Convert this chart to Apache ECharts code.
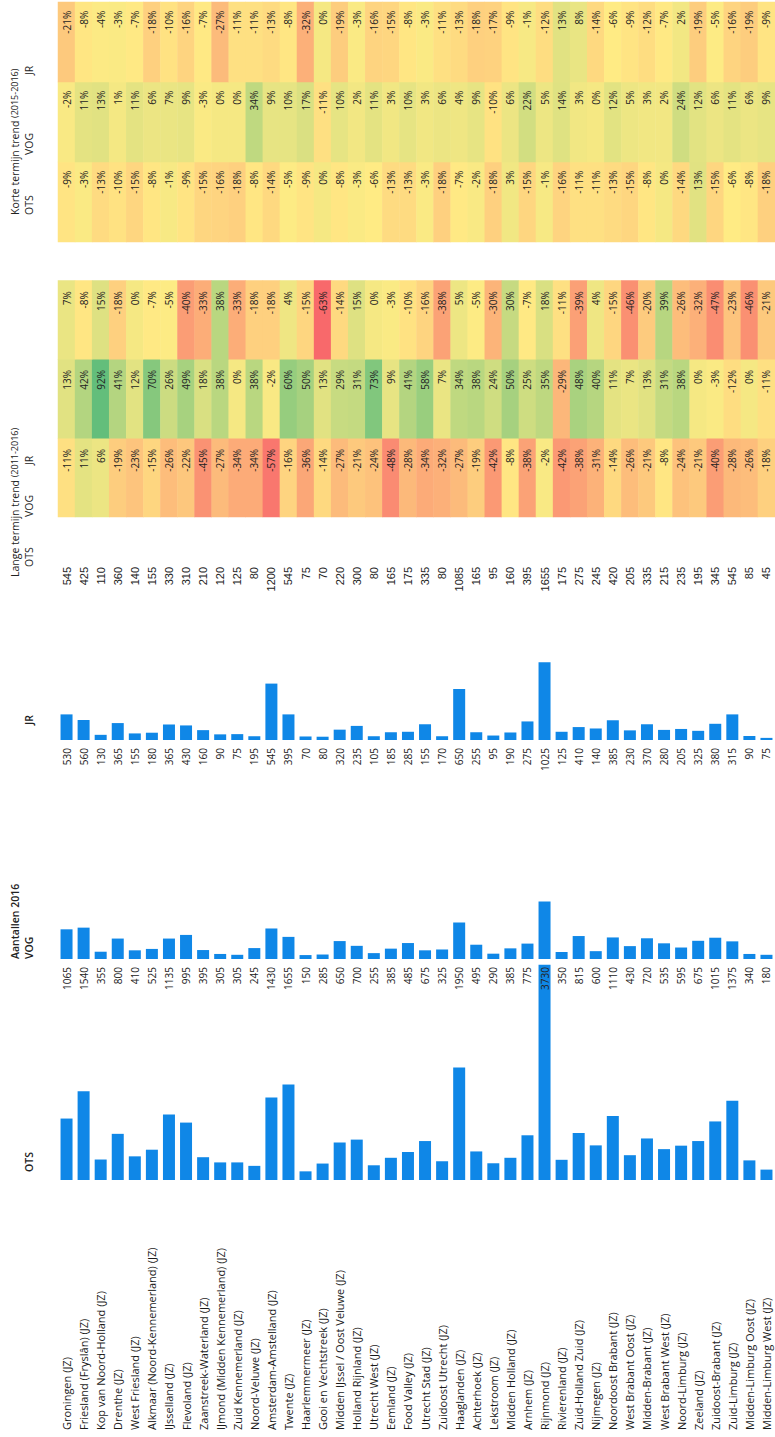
<!DOCTYPE html>
<html><head><meta charset="utf-8">
<script src="https://cdn.jsdelivr.net/npm/echarts@6/dist/echarts.min.js"></script>
<style>
html,body{margin:0;padding:0;background:#fff;overflow:hidden;width:775px;height:1437px;}
#wrap{position:absolute;left:0;top:0;width:1437px;height:775px;transform-origin:0 0;transform:translate(0px,1437px) rotate(-90deg);}
#chart{width:1437px;height:775px;}
</style></head>
<body><div id="wrap"><div id="chart"></div></div>
<script>
// ---------- DATA ----------
const regions = ["Groningen (JZ)","Friesland (Fryslân) (JZ)","Kop van Noord-Holland (JZ)","Drenthe (JZ)","West Friesland (JZ)","Alkmaar (Noord-Kennemerland) (JZ)","IJsselland (JZ)","Flevoland (JZ)","Zaanstreek-Waterland (JZ)","IJmond (Midden Kennemerland) (JZ)","Zuid Kennemerland (JZ)","Noord-Veluwe (JZ)","Amsterdam-Amstelland (JZ)","Twente (JZ)","Haarlemmermeer (JZ)","Gooi en Vechtstreek (JZ)","Midden IJssel / Oost Veluwe (JZ)","Holland Rijnland (JZ)","Utrecht West (JZ)","Eemland (JZ)","Food Valley (JZ)","Utrecht Stad (JZ)","Zuidoost Utrecht (JZ)","Haaglanden (JZ)","Achterhoek (JZ)","Lekstroom (JZ)","Midden Holland (JZ)","Arnhem (JZ)","Rijnmond (JZ)","Rivierenland (JZ)","Zuid-Holland Zuid (JZ)","Nijmegen (JZ)","Noordoost Brabant (JZ)","West Brabant Oost (JZ)","Midden-Brabant (JZ)","West Brabant West (JZ)","Noord-Limburg (JZ)","Zeeland (JZ)","Zuidoost-Brabant (JZ)","Zuid-Limburg (JZ)","Midden-Limburg Oost (JZ)","Midden-Limburg West (JZ)"];
const otsCount = [1065,1540,355,800,410,525,1135,995,395,305,305,245,1430,1655,150,285,650,700,255,385,485,675,325,1950,495,290,385,775,3730,350,815,600,1110,430,720,535,595,675,1015,1375,340,180];
const vogCount = [530,560,130,365,155,180,365,430,160,90,75,195,545,395,70,80,320,235,105,185,285,155,170,650,255,95,190,275,1025,125,410,140,385,230,370,280,205,325,380,315,90,75];
const jrCount  = [545,425,110,360,140,155,330,310,210,120,125,80,1200,545,75,70,220,300,80,165,175,335,80,1085,165,95,160,395,1655,175,275,245,420,205,335,215,235,195,345,545,85,45];
const langeOTS = [-11,11,6,-19,-23,-15,-26,-22,-45,-27,-34,-34,-57,-16,-36,-14,-27,-21,-24,-48,-28,-34,-32,-27,-19,-42,-8,-38,-2,-42,-38,-31,-14,-26,-21,-8,-24,-21,-40,-28,-26,-18];
const langeVOG = [13,42,92,41,12,70,26,49,18,38,0,38,-2,60,50,13,29,31,73,9,41,58,7,34,38,24,50,25,35,-29,48,40,11,7,13,31,38,0,-3,-12,0,-11];
const langeJR  = [7,-8,15,-18,0,-7,-5,-40,-33,38,-33,-18,-18,4,-15,-63,-14,15,0,-3,-10,-16,-38,5,-5,-30,30,-7,18,-11,-39,4,-15,-46,-20,39,-26,-32,-47,-23,-46,-21];
const korteOTS = [-9,-3,-13,-10,-15,-8,-1,-9,-15,-16,-18,-8,-14,-5,-9,0,-8,-3,-6,-13,-13,-3,-18,-7,-2,-18,3,-15,-1,-16,-11,-11,-13,-15,-8,0,-14,13,-15,-6,-8,-18];
const korteVOG = [-2,11,13,1,11,6,7,9,-3,0,0,34,9,10,17,-11,10,2,11,3,10,3,6,4,9,-10,6,22,5,14,3,0,12,5,3,2,24,12,6,11,6,9];
const korteJR  = [-21,-8,-4,-3,-7,-18,-10,-16,-7,-27,-11,-11,-13,-8,-32,0,-19,-3,-16,-15,-8,-3,-11,-13,-18,-17,-9,-1,-12,13,8,-14,-6,-9,-12,-7,2,-19,-5,-16,-19,-9];
const trendCols = ["OTS","VOG","JR"];

// ---------- LAYOUT (unrotated frame: 1437 x 775) ----------
const ROW_TOP = 58, ROW_H = 17.12, N = regions.length, GH = N*ROW_H;
const FONT = "'Open Sans', 'Noto Sans', sans-serif";
const BAR = '#0F87E7';

function catAxis(gi, extra){
  return Object.assign({type:'category', gridIndex:gi, data:regions, inverse:true,
    axisLine:{show:false}, axisTick:{show:false}, axisLabel:{show:false}, splitLine:{show:false}}, extra||{});
}
function valAxis(gi, max){
  return {type:'value', gridIndex:gi, min:0, max:max, show:false, splitLine:{show:false}};
}
function numAxis(gi, arr, extra){
  return Object.assign({type:'category', gridIndex:gi, data:arr.map(String), inverse:true, position:'left', z:10,
    axisLine:{show:false}, axisTick:{show:false}, splitLine:{show:false},
    axisLabel:{show:true, margin:0, align:'right', fontFamily:FONT, fontSize:10, color:'#222'}}, extra||{});
}

// heat colours (Excel red-yellow-green scale)
const RED=[248,105,107], YEL=[255,235,132], GRN=[99,190,123];
const vmMin=-63, vmMid=-6, vmMax=92;
function mix(a,b,t){return 'rgb('+a.map((x,i)=>Math.round(x+(b[i]-x)*t)).join(',')+')';}
const heatColors=[];
for(let v=vmMin; v<=vmMax; v++){
  heatColors.push(v<=vmMid ? mix(RED,YEL,(v-vmMin)/(vmMid-vmMin)) : mix(YEL,GRN,(v-vmMid)/(vmMax-vmMid)));
}
function heatData(cols){
  const d=[];
  cols.forEach((arr,ci)=>arr.forEach((v,ri)=>d.push([ci,ri,v])));
  return d;
}

const grids = [
  {left:257, top:ROW_TOP, width:230.8, height:GH},   // 0 OTS bars (max 4000)
  {left:478, top:ROW_TOP, width:224,   height:GH},   // 1 VOG bars (max 4000)
  {left:697, top:ROW_TOP, width:188,   height:GH},   // 2 JR bars (max 4000)
  {left:470, top:ROW_TOP, width:5, height:GH},       // 3 OTS numbers
  {left:689, top:ROW_TOP, width:5, height:GH},       // 4 VOG numbers
  {left:870, top:ROW_TOP, width:5, height:GH},       // 5 JR numbers
  {left:920, top:ROW_TOP, width:236.5, height:GH},   // 6 Lange heat
  {left:1195, top:ROW_TOP, width:240, height:GH}     // 7 Korte heat
];

const option = {
  animation:false,
  backgroundColor:'#fff',
  grid: grids,
  xAxis: [
    valAxis(0,4000), valAxis(1,4000), valAxis(2,4000),
    valAxis(3,1), valAxis(4,1), valAxis(5,1),
    {type:'category', gridIndex:6, data:trendCols, show:false},
    {type:'category', gridIndex:7, data:trendCols, show:false}
  ],
  yAxis: [
    catAxis(0, {axisLabel:{show:true, align:'left', margin:250, fontFamily:FONT, fontSize:11, color:'#1a1a1a'}}),
    catAxis(1), catAxis(2),
    numAxis(3, otsCount),
    numAxis(4, vogCount),
    numAxis(5, jrCount, {axisLabel:{show:true, margin:0, align:'right', fontFamily:"'Liberation Sans', Arial, sans-serif", fontSize:11, color:'#222'}}),
    catAxis(6), catAxis(7)
  ],
  visualMap: {type:'continuous', show:false, min:vmMin, max:vmMax, dimension:2, seriesIndex:[3,4], inRange:{color:heatColors}},
  series: [
    {type:'bar', xAxisIndex:0, yAxisIndex:0, data:otsCount, barWidth:12, itemStyle:{color:BAR}},
    {type:'bar', xAxisIndex:1, yAxisIndex:1, data:vogCount, barWidth:12, itemStyle:{color:BAR}},
    {type:'bar', xAxisIndex:2, yAxisIndex:2, data:jrCount, barWidth:12, itemStyle:{color:BAR}},
    {type:'heatmap', xAxisIndex:6, yAxisIndex:6, data:heatData([langeOTS,langeVOG,langeJR]),
      label:{show:true, position:'insideRight', distance:11, formatter:p=>p.value[2]+'%', fontFamily:FONT, fontSize:10, color:'#222'}},
    {type:'heatmap', xAxisIndex:7, yAxisIndex:7, data:heatData([korteOTS,korteVOG,korteJR]),
      label:{show:true, position:'insideRight', distance:9, formatter:p=>p.value[2]+'%', fontFamily:FONT, fontSize:10, color:'#222'}}
  ],
  graphic: [
    {type:'text', left:265, top:23, style:{text:'OTS', font:"600 10.5px "+FONT, fill:'#222'}},
    {type:'text', left:478, top:9, style:{text:'Aantallen 2016', font:"600 10.5px "+FONT, fill:'#222'}},
    {type:'text', left:478, top:23, style:{text:'VOG', font:"600 10.5px "+FONT, fill:'#222'}},
    {type:'text', left:712, top:23, style:{text:'JR', font:"600 10.5px "+FONT, fill:'#222'}},
    {type:'text', left:860, top:9, style:{rich:{a:{font:"10.5px "+FONT, fill:'#222'}, b:{font:"9px "+FONT, fill:'#222'}}, text:'{a|Lange termijn trend }{b|(2011-2016)}'}},
    {type:'text', left:870, top:23, style:{text:'OTS', font:"10.5px "+FONT, fill:'#222'}},
    {type:'text', left:920, top:23, style:{text:'VOG', font:"10.5px "+FONT, fill:'#222'}},
    {type:'text', left:972, top:23, style:{text:'JR', font:"10.5px "+FONT, fill:'#222'}},
    {type:'text', left:1222, top:9, style:{rich:{a:{font:"10.5px "+FONT, fill:'#222'}, b:{font:"9px "+FONT, fill:'#222'}}, text:'{a|Korte termijn trend }{b|(2015-2016)}'}},
    {type:'text', left:1222, top:23, style:{text:'OTS', font:"10.5px "+FONT, fill:'#222'}},
    {type:'text', left:1282, top:23, style:{text:'VOG', font:"10.5px "+FONT, fill:'#222'}},
    {type:'text', left:1362, top:23, style:{text:'JR', font:"10.5px "+FONT, fill:'#222'}}
  ]
};
const chart = echarts.init(document.getElementById('chart'), null, {renderer:'svg', width:1437, height:775});
chart.setOption(option);
</script></body></html>
